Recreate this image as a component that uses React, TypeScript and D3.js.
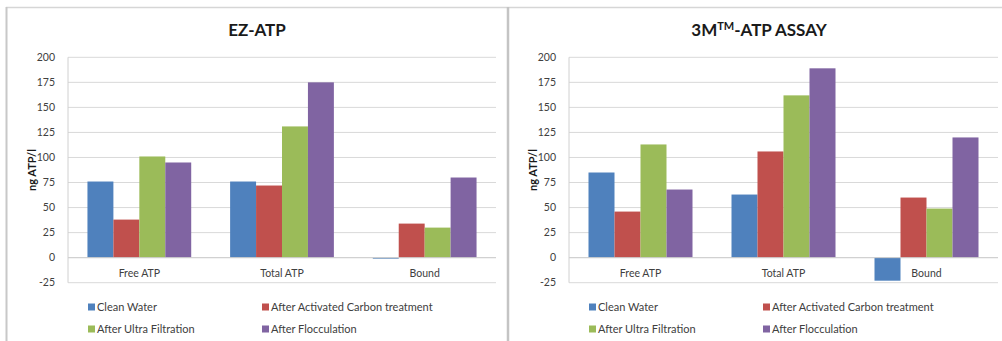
import React from "react";
import * as d3 from "d3";

const categories = ["Free ATP", "Total ATP", "Bound"];
const seriesNames = [
  "Clean Water",
  "After Activated Carbon treatment",
  "After Ultra Filtration",
  "After Flocculation",
];
const seriesColors = ["#4F81BD", "#C0504D", "#9BBB59", "#8064A2"];
const yTicks = [-25, 0, 25, 50, 75, 100, 125, 150, 175, 200];

// EZ-ATP values per series (Free ATP, Total ATP, Bound)
const ezClean = [76, 76, -1];
const ezCarbon = [38, 72, 34];
const ezUltra = [101, 131, 30];
const ezFloc = [95, 175, 80];

// 3M ATP assay values
const mClean = [85, 63, -23];
const mCarbon = [46, 106, 60];
const mUltra = [113, 162, 49];
const mFloc = [68, 189, 120];

const FONT = "Lato, 'Open Sans', sans-serif";

type PanelProps = {
  title: React.ReactNode;
  titleX: number;
  x0: number;
  x1: number;
  data: number[][];
};

function Panel({ title, titleX, x0, x1, data }: PanelProps) {
  const y = d3.scaleLinear().domain([-25, 200]).range([282.7, 57.3]);
  const xb = d3.scaleBand<string>().domain(categories).range([x0, x1]).padding(0);
  const bw = xb.bandwidth();
  const xi = d3
    .scaleBand<string>()
    .domain(seriesNames)
    .range([(bw * 0.75) / 5.5, (bw * 4.75) / 5.5])
    .padding(0);

  const legendRows = [
    [0, 1],
    [2, 3],
  ];
  const legendCols = [x0 + 20, x0 + 194];
  const legendY = [307, 329];

  return (
    <g>
      <text
        x={titleX}
        y={36}
        textAnchor="middle"
        fontFamily={FONT}
        fontWeight="bold"
        fontSize={17}
        fill="#1a1a1a"
      >
        {title}
      </text>
      {yTicks.map((t) => (
        <g key={t}>
          <line x1={x0} x2={x1} y1={y(t)} y2={y(t)} stroke="#d9d9d9" strokeWidth={1} />
          <text
            x={x0 - 13}
            y={y(t) + 3.5}
            textAnchor="end"
            fontFamily={FONT}
            fontSize={10.5}
            fill="#404040"
          >
            {t}
          </text>
        </g>
      ))}
      <line x1={x0} x2={x0} y1={y(200)} y2={y(-25)} stroke="#d0d0d0" strokeWidth={1} />
      <text
        transform={`translate(${x0 - 32},170) rotate(-90)`}
        textAnchor="middle"
        fontFamily={FONT}
        fontWeight="bold"
        fontSize={11}
        fill="#1a1a1a"
      >
        ng ATP/l
      </text>
      {data.map((vals, si) =>
        vals.map((v, ci) => {
          const bx = (xb(categories[ci]) as number) + (xi(seriesNames[si]) as number);
          const top = Math.min(y(v), y(0));
          const h = Math.max(Math.abs(y(v) - y(0)), 0.8);
          return (
            <rect
              key={`${si}-${ci}`}
              x={bx}
              y={top}
              width={xi.bandwidth()}
              height={h}
              fill={seriesColors[si]}
            />
          );
        })
      )}
      <line x1={x0} x2={x1} y1={y(0)} y2={y(0)} stroke="#cfcfcf" strokeWidth={1} />
      {categories.map((c) => (
        <text
          key={c}
          x={(xb(c) as number) + bw / 2}
          y={277}
          textAnchor="middle"
          fontFamily={FONT}
          fontSize={10.5}
          fill="#404040"
        >
          {c}
        </text>
      ))}
      {legendRows.map((row, ri) =>
        row.map((si, ci) => (
          <g key={si}>
            <rect
              x={legendCols[ci]}
              y={legendY[ri] - 3.5}
              width={7}
              height={7}
              fill={seriesColors[si]}
            />
            <text
              x={legendCols[ci] + 9}
              y={legendY[ri] + 4}
              fontFamily={FONT}
              fontSize={11}
              fill="#404040"
            >
              {seriesNames[si]}
            </text>
          </g>
        ))
      )}
    </g>
  );
}

export default function App() {
  return (
    <svg
      width={1002}
      height={341}
      style={{ position: "absolute", left: 0, top: 0, background: "#ffffff" }}
    >
      <rect x={0} y={0} width={1002} height={341} fill="#ffffff" />
      <line x1={6} x2={1002} y1={7.5} y2={7.5} stroke="#d6d6d6" strokeWidth={1.5} />
      <line x1={6.5} x2={6.5} y1={7} y2={341} stroke="#c8c8c8" strokeWidth={2} />
      <line x1={508} x2={508} y1={7} y2={341} stroke="#c4c4c4" strokeWidth={2.5} />
      <Panel
        title="EZ-ATP"
        titleX={257}
        x0={68}
        x1={496}
        data={[ezClean, ezCarbon, ezUltra, ezFloc]}
      />
      <Panel
        title={
          <>
            3M<tspan fontSize={11} dy={-6}>TM</tspan>
            <tspan dy={6}>-ATP ASSAY</tspan>
          </>
        }
        titleX={759}
        x0={569}
        x1={998}
        data={[mClean, mCarbon, mUltra, mFloc]}
      />
    </svg>
  );
}
